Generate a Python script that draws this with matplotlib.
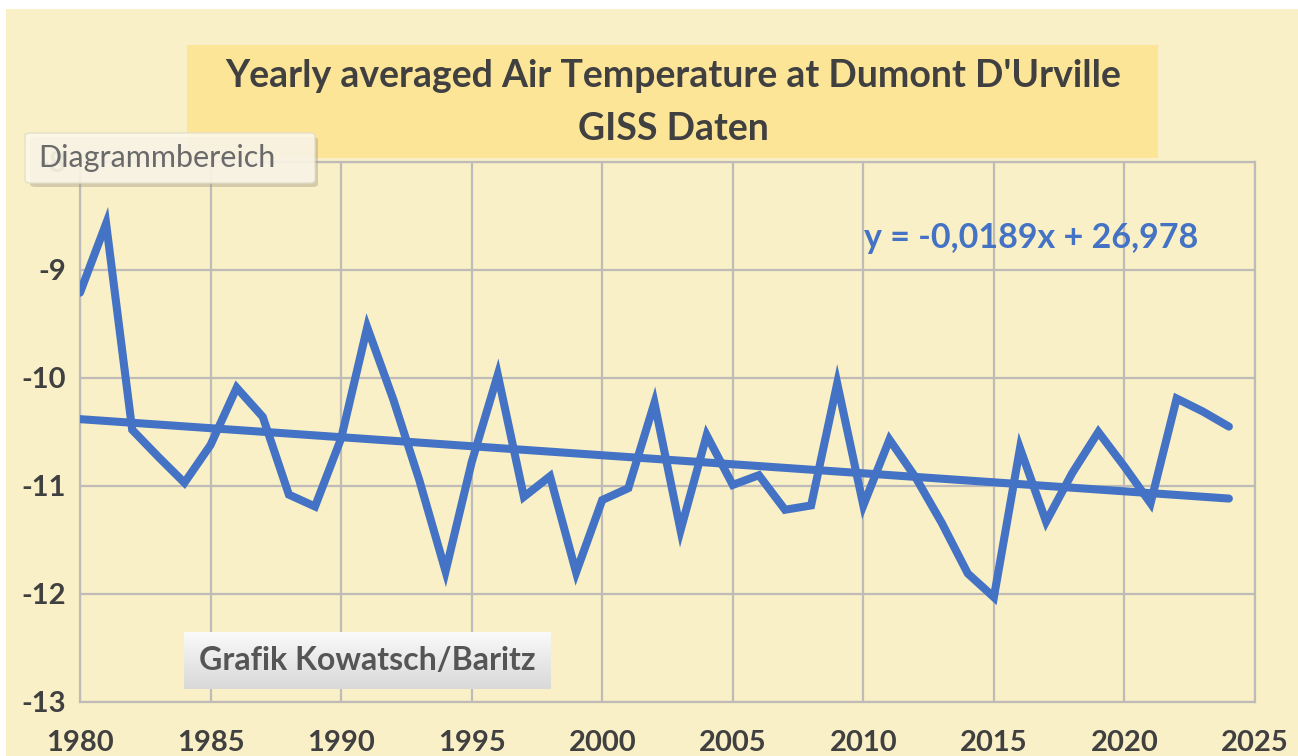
"""
Yearly averaged air temperature at Dumont D'Urville (GISS) with linear trend.
"""

import numpy as np
import matplotlib.pyplot as plt
from matplotlib.patches import FancyBboxPatch, Rectangle

# -- Data ---------------------------------------------------------------------
years = list(range(1980, 2025))
temps = [
    -9.21, -8.57, -10.48, -10.73, -10.97, -10.62, -10.09, -10.36, -11.08, -11.19,
    -10.56, -9.53, -10.20, -10.95, -11.79, -10.78, -9.97, -11.10, -10.91, -11.80,
    -11.13, -11.02, -10.23, -11.41, -10.53, -10.99, -10.90, -11.22, -11.18, -10.05,
    -11.18, -10.57, -10.92, -11.34, -11.81, -12.03, -10.65, -11.33, -10.88, -10.50,
    -10.82, -11.16, -10.19, -10.31, -10.45,
]
trend_label = "y = -0,0189x + 26,978"
x_ticks = list(range(1980, 2030, 5))
y_ticks = [-13, -12, -11, -10, -9, -8]

BG = "#F9F0C7"
BLUE = "#4472C4"
GRID = "#BFBBB8"
DARK = "#404040"

plt.rcParams["font.family"] = ["Lato", "DejaVu Sans"]

W, H = 1298, 756
fig = plt.figure(figsize=(W / 100, H / 100), dpi=100)
fig.patch.set_facecolor("white")
# chart area background (small white margin at top/left)
fig.add_artist(Rectangle((6 / W, 0), 1, 1 - 9 / H, transform=fig.transFigure,
                         facecolor=BG, edgecolor="none", zorder=0))

ax = fig.add_axes([80 / W, 1 - 702 / H, 1175 / W, 540 / H])
ax.set_facecolor(BG)

# -- Series and linear trend ---------------------------------------------------
ax.plot(years, temps, color=BLUE, lw=5.8, solid_joinstyle="miter",
        solid_capstyle="round", zorder=3)
coef = np.polyfit(years, temps, 1)
ax.plot([years[0], years[-1]], np.polyval(coef, [years[0], years[-1]]),
        color=BLUE, lw=5.8, solid_capstyle="round", zorder=3)

# -- Axes ----------------------------------------------------------------------
ax.set_xlim(1980, 2025)
ax.set_ylim(-13, -8)
ax.set_xticks(x_ticks)
ax.set_yticks(y_ticks)
ax.grid(True, color=GRID, lw=1.6)
ax.set_axisbelow(True)
for s in ax.spines.values():
    s.set_color(GRID)
    s.set_linewidth(1.6)
ax.tick_params(length=0, labelsize=21, colors=DARK, pad=10)
ax.tick_params(axis="x", pad=20)
for lab in ax.get_xticklabels() + ax.get_yticklabels():
    lab.set_fontweight("bold")
ax.set_yticklabels([f"{v}" for v in y_ticks])

# -- Title box -------------------------------------------------------------------
fig.add_artist(Rectangle((187 / W, 1 - 158 / H), 971 / W, 113 / H,
                         transform=fig.transFigure, facecolor="#FDE598",
                         edgecolor="none", zorder=1))
fig.text(673 / W, 1 - 76 / H, "Yearly averaged Air Temperature at Dumont D'Urville",
         ha="center", va="center", fontsize=27, fontweight="bold", color=DARK)
fig.text(673 / W, 1 - 129 / H, "GISS Daten",
         ha="center", va="center", fontsize=27, fontweight="bold", color=DARK)

# -- Trend equation --------------------------------------------------------------
fig.text(1198 / W, 1 - 238 / H, trend_label, ha="right", va="center",
         fontsize=24.5, fontweight="bold", color=BLUE, zorder=5)

# -- "Diagrammbereich" tooltip -------------------------------------------------
fig.add_artist(FancyBboxPatch((30 / W, 1 - 187 / H), 288 / W, 50 / H,
                              boxstyle="round,pad=0,rounding_size=0.004",
                              transform=fig.transFigure, facecolor="#A8A088",
                              edgecolor="none", alpha=0.45, zorder=6))
fig.add_artist(FancyBboxPatch((25 / W, 1 - 183 / H), 290 / W, 50 / H,
                              boxstyle="round,pad=0,rounding_size=0.004",
                              transform=fig.transFigure, facecolor="#FCF8EA",
                              edgecolor="#E2DDCC", lw=1, alpha=0.88, zorder=7))
fig.text(38 / W, 1 - 158 / H, "Diagrammbereich", ha="left", va="center",
         fontsize=22, color="#6A6A6A", zorder=8)

# -- Credit box (vertical grey gradient) ----------------------------------------
cax = fig.add_axes([184 / W, 1 - 689 / H, 367 / W, 57 / H], zorder=6)
grad = np.linspace(0, 1, 64).reshape(-1, 1)
cax.imshow(grad, cmap=plt.matplotlib.colors.LinearSegmentedColormap.from_list(
    "g", ["#FBFBFB", "#E9E9E9", "#D9D9D9"]), aspect="auto",
    extent=[0, 1, 1, 0])
cax.set_axis_off()
fig.text(367 / W, 1 - 661 / H, "Grafik Kowatsch/Baritz", ha="center",
         va="center", fontsize=23, fontweight="bold", color="#555555", zorder=8)

fig.savefig("out.png", dpi=100, facecolor=fig.get_facecolor())
